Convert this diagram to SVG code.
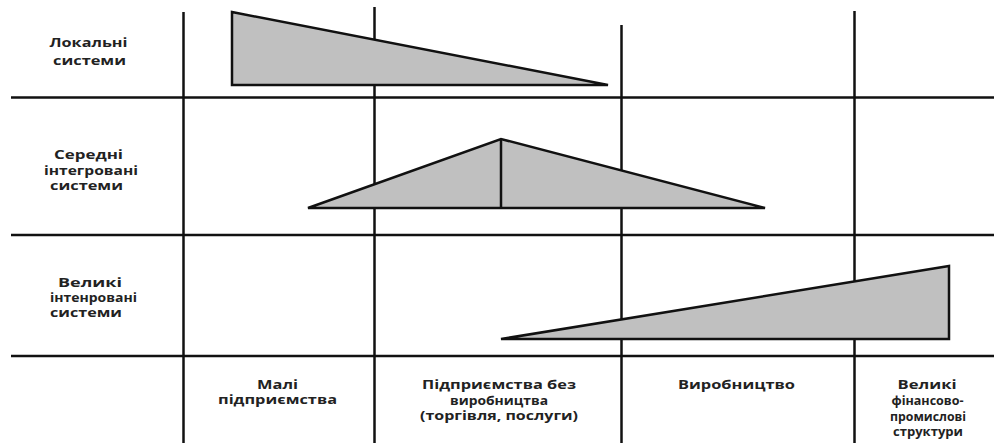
<svg xmlns="http://www.w3.org/2000/svg" width="994" height="443" viewBox="0 0 994 443">
<style>
.ln{stroke:#111;stroke-width:2.5;fill:none}
.sh{fill:#c0c0c0;stroke:#111;stroke-width:2.5;stroke-linejoin:miter}
.t{font-family:"Open Sans","DejaVu Sans",sans-serif;font-weight:bold;font-size:11.5px;fill:#222;text-anchor:middle}
</style>
<rect width="994" height="443" fill="#fff"/>
<g id="grid">
<line class="ln" x1="11" y1="97.5" x2="994" y2="97.5"/>
<line class="ln" x1="11" y1="235" x2="994" y2="235"/>
<line class="ln" x1="11" y1="356" x2="994" y2="356"/>
<line class="ln" x1="183.5" y1="12" x2="183.5" y2="443"/>
<line class="ln" x1="374.5" y1="7" x2="374.5" y2="443"/>
<line class="ln" x1="621.5" y1="25" x2="621.5" y2="443"/>
<line class="ln" x1="854.5" y1="11" x2="854.5" y2="443"/>
</g>
<g id="local-shape">
<polygon class="sh" points="232,12 608,85 232,85"/>
</g>
<g id="medium-shape">
<polygon class="sh" points="308,208 501,139 765,208"/>
<line class="ln" x1="501" y1="139" x2="501" y2="208"/>
</g>
<g id="large-shape">
<polygon class="sh" points="501,339 949,266 949,339"/>
</g>
<g id="label-local">
<text class="t" x="88.5" y="47" textLength="78" lengthAdjust="spacingAndGlyphs">Локальні</text>
<text class="t" x="89.5" y="64.5" textLength="73" lengthAdjust="spacingAndGlyphs">системи</text>
</g>
<g id="label-medium">
<text class="t" x="88.5" y="158.5" textLength="69" lengthAdjust="spacingAndGlyphs">Середні</text>
<text class="t" x="91" y="174.5" textLength="94" lengthAdjust="spacingAndGlyphs">інтегровані</text>
<text class="t" x="86.5" y="190" textLength="73" lengthAdjust="spacingAndGlyphs">системи</text>
</g>
<g id="label-large">
<text class="t" x="90" y="286.5" textLength="64" lengthAdjust="spacingAndGlyphs">Великі</text>
<text class="t" x="93.5" y="302" textLength="87" lengthAdjust="spacingAndGlyphs">інтенровані</text>
<text class="t" x="86" y="317" textLength="72" lengthAdjust="spacingAndGlyphs">системи</text>
</g>
<g id="col-small">
<text class="t" x="277.5" y="389" textLength="41" lengthAdjust="spacingAndGlyphs">Малі</text>
<text class="t" x="277.5" y="404" textLength="119" lengthAdjust="spacingAndGlyphs">підприємства</text>
</g>
<g id="col-trade">
<text class="t" x="499" y="389" textLength="154" lengthAdjust="spacingAndGlyphs">Підприємства без</text>
<text class="t" x="499" y="404.5" textLength="98" lengthAdjust="spacingAndGlyphs">виробництва</text>
<text class="t" x="499" y="420" textLength="158" lengthAdjust="spacingAndGlyphs">(торгівля, послуги)</text>
</g>
<g id="col-production">
<text class="t" x="736.5" y="389" textLength="117" lengthAdjust="spacingAndGlyphs">Виробництво</text>
</g>
<g id="col-large">
<text class="t" x="927" y="389" textLength="59" lengthAdjust="spacingAndGlyphs">Великі</text>
<text class="t" x="927.5" y="405" textLength="72" lengthAdjust="spacingAndGlyphs">фінансово-</text>
<text class="t" x="928" y="420.5" textLength="76" lengthAdjust="spacingAndGlyphs">промислові</text>
<text class="t" x="928" y="436" textLength="70" lengthAdjust="spacingAndGlyphs">структури</text>
</g>
</svg>
